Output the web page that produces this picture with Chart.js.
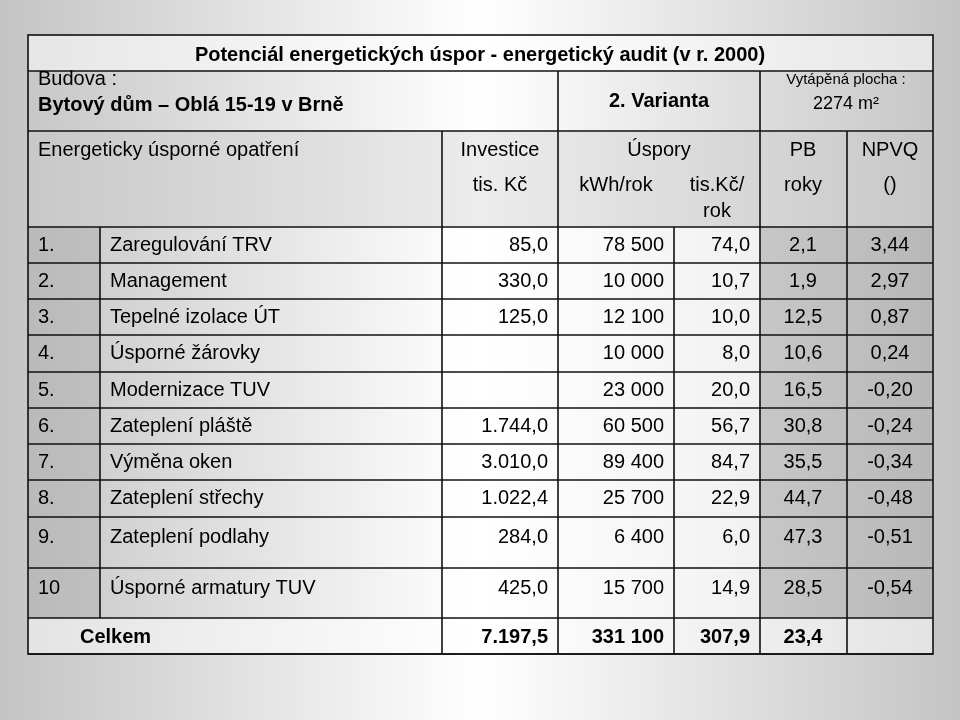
<!DOCTYPE html>
<html>
<head>
<meta charset="utf-8">
<script src="https://cdn.jsdelivr.net/npm/chart.js@4"></script>
<style>
  body { margin: 0; background: #fff; }
  #wrap { width: 960px; height: 720px; }
</style>
</head>
<body>
<div id="wrap"><canvas id="myChart" width="960" height="720"></canvas></div>
<script>
const rowNums = ['1.', '2.', '3.', '4.', '5.', '6.', '7.', '8.', '9.', '10'];
const measures = ['Zaregulování TRV', 'Management', 'Tepelné izolace ÚT', 'Úsporné žárovky', 'Modernizace TUV',
  'Zateplení pláště', 'Výměna oken', 'Zateplení střechy', 'Zateplení podlahy', 'Úsporné armatury TUV'];
const investice = ['85,0', '330,0', '125,0', '', '', '1.744,0', '3.010,0', '1.022,4', '284,0', '425,0'];
const usporyKwh = ['78 500', '10 000', '12 100', '10 000', '23 000', '60 500', '89 400', '25 700', '6 400', '15 700'];
const usporyKc = ['74,0', '10,7', '10,0', '8,0', '20,0', '56,7', '84,7', '22,9', '6,0', '14,9'];
const pb = ['2,1', '1,9', '12,5', '10,6', '16,5', '30,8', '35,5', '44,7', '47,3', '28,5'];
const npvq = ['3,44', '2,97', '0,87', '0,24', '-0,20', '-0,24', '-0,34', '-0,48', '-0,51', '-0,54'];
const totals = ['7.197,5', '331 100', '307,9', '23,4', ''];

// column edges and row edges of the table
const X = [28, 100, 442, 558, 674, 760, 847, 933];
const rowTops = [227, 263, 299, 335, 372, 408, 444, 480, 517, 568, 618, 654];

const tablePlugin = {
  id: 'table',
  beforeDraw(chart) {
    const c = chart.ctx;
    const W = chart.width, H = chart.height;
    let g = c.createLinearGradient(0, 0, W, 0);
    g.addColorStop(0, '#c4c4c4'); g.addColorStop(0.5, '#ffffff'); g.addColorStop(1, '#c4c4c4');
    c.fillStyle = g; c.fillRect(0, 0, W, H);

    // cell shading
    c.fillStyle = 'rgba(255,255,255,0.55)'; c.fillRect(28, 35, 905, 36);
    c.fillStyle = 'rgba(200,200,200,0.35)'; c.fillRect(28, 131, 905, 96);
    c.fillStyle = 'rgba(160,160,160,0.35)'; c.fillRect(28, 227, 72, 391);
    c.fillStyle = 'rgba(255,255,255,0.6)'; c.fillRect(442, 227, 318, 391);
    c.fillStyle = 'rgba(150,150,150,0.3)'; c.fillRect(760, 227, 173, 391);
    c.fillStyle = 'rgba(255,255,255,0.5)'; c.fillRect(28, 618, 905, 36);

    c.strokeStyle = '#111'; c.lineWidth = 1.6;
    const line = (x1, y1, x2, y2) => { c.beginPath(); c.moveTo(x1, y1); c.lineTo(x2, y2); c.stroke(); };
    c.strokeRect(28, 35, 905, 619);
    line(28, 71, 933, 71); line(28, 131, 933, 131);
    line(558, 71, 558, 131); line(760, 71, 760, 131);
    [442, 558, 760, 847].forEach(x => line(x, 131, x, 227));
    rowTops.forEach(y => line(28, y, 933, y));
    X.slice(1, -1).forEach(x => line(x, 227, x, 618));
    X.slice(2, -1).forEach(x => line(x, 618, x, 654));

    c.fillStyle = '#000'; c.textBaseline = 'middle';
    const txt = (s, x, y, align, font) => { c.font = font || '20px "Liberation Sans", Arial'; c.textAlign = align || 'left'; c.fillText(s, x, y); };
    txt('Potenciál energetických úspor - energetický audit (v r. 2000)', 480, 55, 'center', 'bold 20px "Liberation Sans"');
    txt('Budova :', 38, 79);
    txt('Bytový dům – Oblá 15-19 v Brně', 38, 105, 'left', 'bold 20px "Liberation Sans"');
    txt('2. Varianta', 659, 101, 'center', 'bold 20px "Liberation Sans"');
    txt('Vytápěná plocha :', 846, 80, 'center', '15px "Liberation Sans"');
    txt('2274 m²', 846, 104, 'center', '18px "Liberation Sans"');
    txt('Energeticky úsporné opatření', 38, 150);
    txt('Investice', 500, 150, 'center'); txt('tis. Kč', 500, 185, 'center');
    txt('Úspory', 659, 150, 'center'); txt('kWh/rok', 616, 185, 'center');
    txt('tis.Kč/', 717, 185, 'center'); txt('rok', 717, 211, 'center');
    txt('PB', 803, 150, 'center'); txt('roky', 803, 185, 'center');
    txt('NPVQ', 890, 150, 'center'); txt('()', 890, 185, 'center');

    rowNums.forEach((n, i) => {
      const y = i < 8 ? (rowTops[i] + rowTops[i + 1]) / 2 : rowTops[i] + 20;
      txt(n, 38, y); txt(measures[i], 110, y);
      txt(investice[i], 548, y, 'right'); txt(usporyKwh[i], 664, y, 'right');
      txt(usporyKc[i], 750, y, 'right'); txt(pb[i], 803, y, 'center'); txt(npvq[i], 890, y, 'center');
    });
    const ty = 637, bf = 'bold 20px "Liberation Sans"';
    txt('Celkem', 80, ty, 'left', bf);
    txt(totals[0], 548, ty, 'right', bf); txt(totals[1], 664, ty, 'right', bf);
    txt(totals[2], 750, ty, 'right', bf); txt(totals[3], 803, ty, 'center', bf);
  }
};

new Chart(document.getElementById('myChart'), {
  type: 'bar',
  data: { labels: measures, datasets: [{ data: [], label: 'opatření' }] },
  options: {
    responsive: false,
    animation: false,
    plugins: { legend: { display: false }, tooltip: { enabled: false } },
    scales: { x: { display: false }, y: { display: false } }
  },
  plugins: [tablePlugin]
});
</script>
</body>
</html>
